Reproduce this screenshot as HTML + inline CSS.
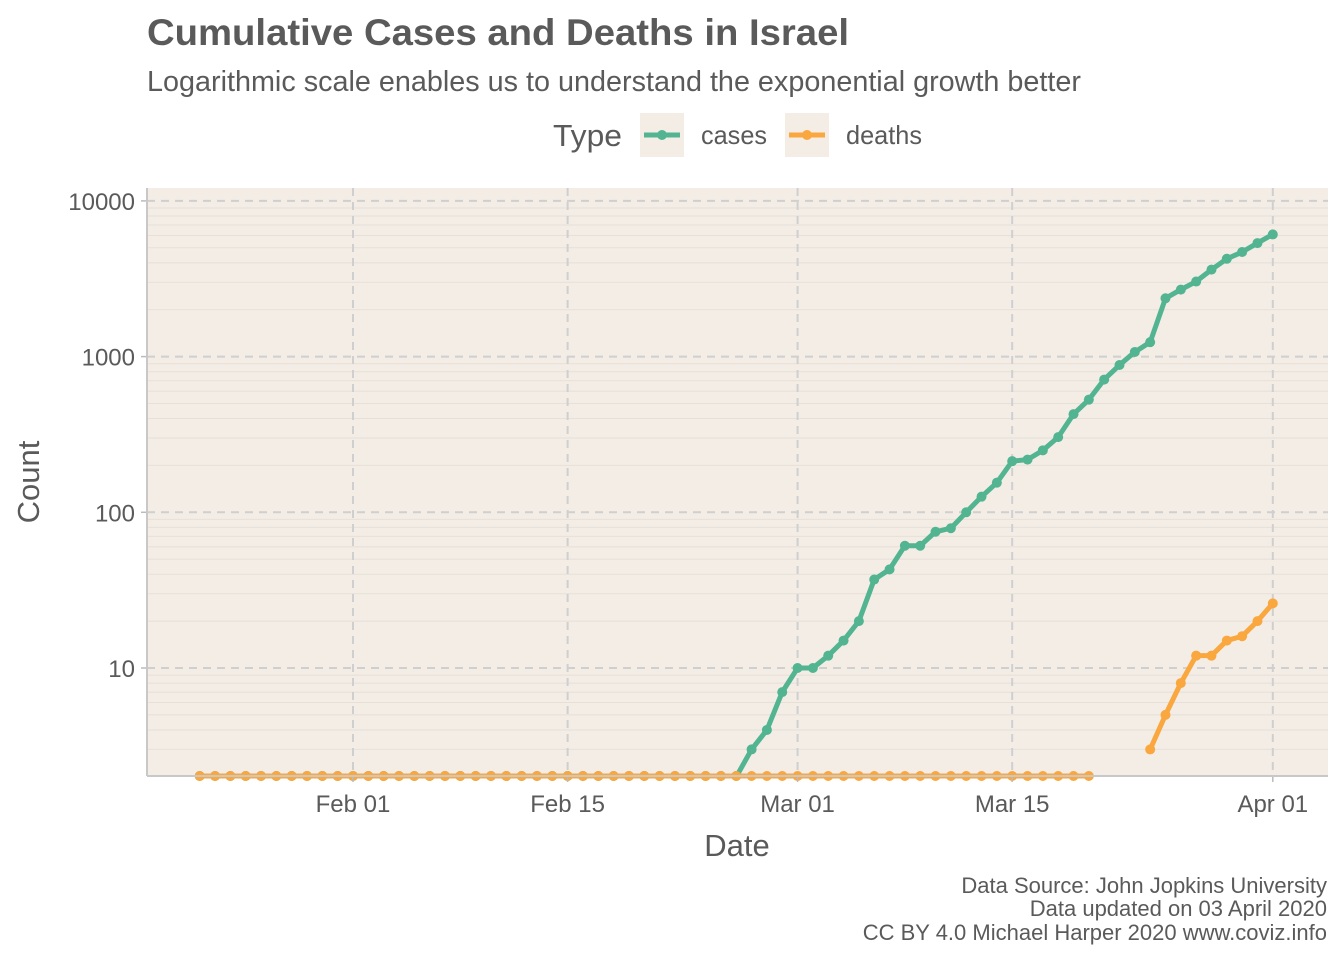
<!DOCTYPE html>
<html><head><meta charset="utf-8"><style>
body{margin:0;background:#fff;font-family:"Liberation Sans",Arial,sans-serif;}
</style></head><body>
<svg id="chart" width="1344" height="960" xmlns="http://www.w3.org/2000/svg">
<text x="147" y="45" font-size="37" font-weight="bold" fill="#5a5a5a" textLength="702" lengthAdjust="spacingAndGlyphs">Cumulative Cases and Deaths in Israel</text>
<text x="147" y="91" font-size="28.5" fill="#5a5a5a" textLength="934" lengthAdjust="spacingAndGlyphs">Logarithmic scale enables us to understand the exponential growth better</text>
<g>
<text x="553" y="146" font-size="31" fill="#5a5a5a" textLength="69" lengthAdjust="spacingAndGlyphs">Type</text>
<g>
<rect x="640" y="113" width="44" height="44" fill="#f3ede6"/>
<line x1="644" y1="135" x2="680" y2="135" stroke="#52b491" stroke-width="5"/>
<circle cx="662" cy="135" r="5" fill="#52b491"/>
<text x="701" y="144" font-size="26" fill="#5a5a5a" textLength="66" lengthAdjust="spacingAndGlyphs">cases</text></g>
<g>
<rect x="785" y="113" width="44" height="44" fill="#f3ede6"/>
<line x1="789" y1="135" x2="825" y2="135" stroke="#f9a73e" stroke-width="5"/>
<circle cx="807" cy="135" r="5" fill="#f9a73e"/>
<text x="846" y="144" font-size="26" fill="#5a5a5a" textLength="76" lengthAdjust="spacingAndGlyphs">deaths</text></g>
</g>
<rect x="147" y="188" width="1181" height="588" fill="#f3ede6"/>
<g id="grid"></g><g id="marks"></g><g id="axes"></g>
<text x="737" y="856" font-size="31" fill="#5a5a5a" text-anchor="middle">Date</text>
<text transform="translate(39,482) rotate(-90)" font-size="31" fill="#5a5a5a" text-anchor="middle">Count</text>
<g font-size="22" fill="#5a5a5a" text-anchor="end">
<text x="1327" y="893">Data Source: John Jopkins University</text>
<text x="1327" y="916">Data updated on 03 April 2020</text>
<text x="1327" y="940">CC BY 4.0 Michael Harper 2020 www.coviz.info</text></g>
</svg>
<script>
const startDate = "2020-01-22";
const caseStart = "2020-02-26";
const casesValues = [2,3,4,7,10,10,12,15,20,37,43,61,61,75,79,100,126,155,213,218,250,304,427,529,712,883,1071,1238,2369,2693,3035,3619,4247,4695,5358,6092];
const deathStart = "2020-03-24";
const deathZeroEnd = "2020-03-20";
const deathsValues = [3,5,8,12,12,15,16,20,26];
const yTicks = [10,100,1000,10000];
const yTickLabels = ["10","100","1000","10000"];
const xTicks = ["2020-02-01","2020-02-15","2020-03-01","2020-03-15","2020-04-01"];
const xTickLabels = ["Feb 01","Feb 15","Mar 01","Mar 15","Apr 01"];

const NS="http://www.w3.org/2000/svg";
const P={l:147,r:1328,t:188,b:776};
const day=d=>Date.parse(d+"T00:00:00Z")/864e5;
const d0=day("2020-02-01"),x0=353,pxDay=15.33;
const X=d=>x0+(d-d0)*pxDay;
const Y=v=>v<=0?P.b:668-(Math.log10(v)-1)*155.7;
function el(t,a,p){const e=document.createElementNS(NS,t);for(const k in a)e.setAttribute(k,a[k]);p.appendChild(e);return e;}
const grid=document.getElementById('grid'),marks=document.getElementById('marks'),axes=document.getElementById('axes');
for(let dec=1;dec<=10000;dec*=10)for(let m=2;m<=9;m++){const y=Y(dec*m);if(y<P.b&&y>P.t){const l=el('line',{x1:P.l,x2:P.r,y1:y,y2:y,stroke:'#e6e0d9','stroke-width':1},grid);

}}
yTicks.forEach((v,i)=>{const y=Y(v);
const l=el('line',{x1:P.l,x2:P.r,y1:y,y2:y,stroke:'#cfcfcf','stroke-width':2,'stroke-dasharray':'8,6'},grid);


el('line',{x1:P.l-6,x2:P.l,y1:y,y2:y,stroke:'#bbb','stroke-width':1.5},axes);
const t=el('text',{x:P.l-12,y:y+9,'font-size':24,fill:'#5a5a5a','text-anchor':'end'},axes);t.textContent=yTickLabels[i];

});
xTicks.forEach((d,i)=>{const x=X(day(d));
const l=el('line',{x1:x,x2:x,y1:P.t,y2:P.b,stroke:'#cfcfcf','stroke-width':2,'stroke-dasharray':'8,6'},grid);


el('line',{x1:x,x2:x,y1:P.b,y2:P.b+6,stroke:'#bbb','stroke-width':1.5},axes);
const t=el('text',{x:x,y:P.b+36,'font-size':24,fill:'#5a5a5a','text-anchor':'middle'},axes);t.textContent=xTickLabels[i];

});
el('line',{x1:P.l,x2:P.l,y1:P.t,y2:P.b,stroke:'#c8c8c8','stroke-width':2},axes);
el('line',{x1:P.l,x2:P.r,y1:P.b,y2:P.b,stroke:'#c8c8c8','stroke-width':2},axes);
const defs=el('defs',{},marks);const cp=el('clipPath',{id:'clip'},defs);el('rect',{x:P.l,y:P.t,width:P.r-P.l,height:P.b-P.t+6},cp);
function series(pts,color,name){
 const g=el('g',{'clip-path':'url(#clip)'},marks);
 
 
 el('polyline',{points:pts.map(p=>p.join(',')).join(' '),fill:'none',stroke:color,'stroke-width':5,'stroke-linejoin':'round'},g);
 pts.forEach(p=>{const c=el('circle',{cx:p[0],cy:Math.min(p[1],P.b),r:5,fill:color},g);
 
 });
}
const cPts=[];const cs=day(caseStart);
for(let d=day(startDate);d<cs;d++)cPts.push([X(d),Y(0)]);
const cPts2=casesValues.map((v,i)=>[X(cs+i),Y(v)]);
series(cPts,'#52b491','cases-zero');
series(cPts2,'#52b491','cases');
const dz=[];for(let d=day(startDate);d<=day(deathZeroEnd);d++)dz.push([X(d),Y(0)]);
series(dz,'#f9a73e','deaths-zero');
series(deathsValues.map((v,i)=>[X(day(deathStart)+i),Y(v)]),'#f9a73e','deaths');
</script>
</body></html>
